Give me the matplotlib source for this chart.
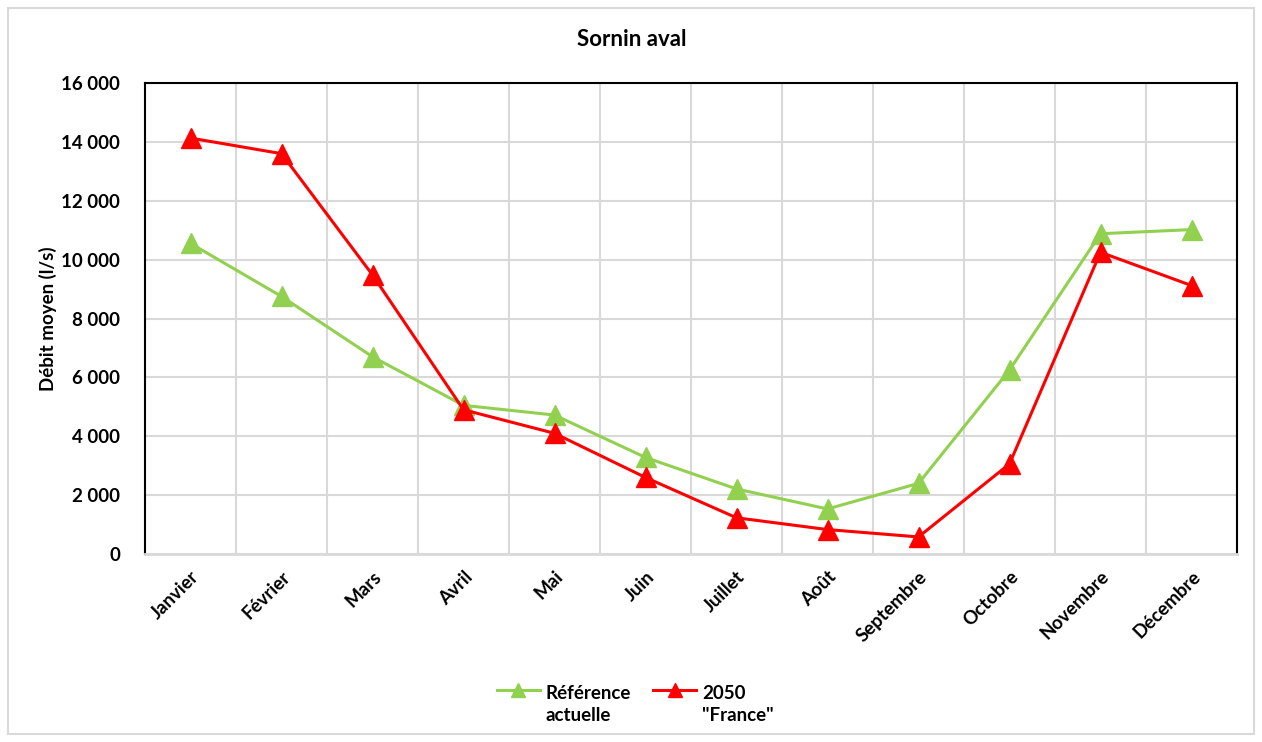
#coding:utf-8
"""
Sornin aval : débit moyen mensuel, référence actuelle et projection 2050
"""
import matplotlib
matplotlib.use("Agg")
import matplotlib.pyplot as plt
from matplotlib.patches import Rectangle
from matplotlib.ticker import FuncFormatter, MultipleLocator
from matplotlib.legend_handler import HandlerLine2D

#données
mois = ["Janvier", "Février", "Mars", "Avril", "Mai", "Juin", "Juillet",
        "Août", "Septembre", "Octobre", "Novembre", "Décembre"]
reference = [10550, 8750, 6700, 5050, 4720, 3280, 2210, 1530, 2400, 6250, 10880, 11020]
france_2050 = [14130, 13600, 9480, 4900, 4100, 2600, 1230, 830, 580, 3060, 10250, 9120]

vert = "#92D050"
rouge = "#FF0000"
gris = "#D9D9D9"


class HandlerHaut(HandlerLine2D):
    #symbole de légende aligné sur la première ligne du texte
    def create_artists(self, legend, orig_handle, xdescent, ydescent, width, height, fontsize, trans):
        return super().create_artists(legend, orig_handle, xdescent, ydescent - 2 * 0.8 * fontsize,
                                      width, height, fontsize, trans)


plt.rcParams["font.family"] = ["Lato", "DejaVu Sans"]
plt.rcParams["font.weight"] = "bold"

fig = plt.figure(figsize=(12.62, 7.42), dpi=100)
#cadre extérieur gris
fig.patches.append(Rectangle((8/1262, 8/742), 1246/1262, 726/742, transform=fig.transFigure,
                             fill=False, edgecolor=gris, lw=1.5))

ax = fig.add_axes([145/1262, 1 - 554/742, 1092/1262, 471/742])
x = list(range(len(mois)))
l1, = ax.plot(x, reference, color=vert, lw=2.2, marker="^", ms=14, label="Référence\nactuelle", zorder=3)
l2, = ax.plot(x, france_2050, color=rouge, lw=2.2, marker="^", ms=14, label="2050\n\"France\"", zorder=4)

ax.set_xlim(-0.5, len(mois) - 0.5)
ax.set_ylim(0, 16000)
ax.yaxis.set_major_locator(MultipleLocator(2000))
ax.yaxis.set_major_formatter(FuncFormatter(lambda v, p: "{:,.0f}".format(v).replace(",", " ")))
ax.set_xticks(x)
ax.set_xticklabels(mois, rotation=45, ha="right", rotation_mode="anchor")
ax.set_xticks([i + 0.5 for i in range(len(mois) - 1)], minor=True)
ax.tick_params(axis="x", which="both", length=0, pad=10, labelsize=13.5)
ax.tick_params(axis="y", length=0, pad=18, labelsize=13.5)
ax.grid(axis="y", color=gris, lw=1.5)
ax.grid(axis="x", which="minor", color=gris, lw=1.5)
ax.set_axisbelow(True)
for s in ["top", "left", "right"]:
    ax.spines[s].set_color("black")
    ax.spines[s].set_linewidth(1.5)
ax.spines["bottom"].set_color(gris)
ax.spines["bottom"].set_linewidth(2)

ax.set_ylabel("Débit moyen (l/s)", fontsize=13.5, fontweight="bold", labelpad=3)
fig.text(632/1262, 1 - 40/742, "Sornin aval", ha="center", va="center", fontsize=16, fontweight="bold")

leg = fig.legend(handles=[l1, l2], loc="upper center", bbox_to_anchor=(635/1262, 1 - 668/742), ncol=2,
                 frameon=False, fontsize=13.5, handlelength=2.3, markerscale=0.75, columnspacing=1.2,
                 handletextpad=0.3, handler_map={l1: HandlerHaut(), l2: HandlerHaut()})
for t in leg.get_texts():
    t.set_linespacing(1.35)

fig.savefig("out.png", dpi=100)
